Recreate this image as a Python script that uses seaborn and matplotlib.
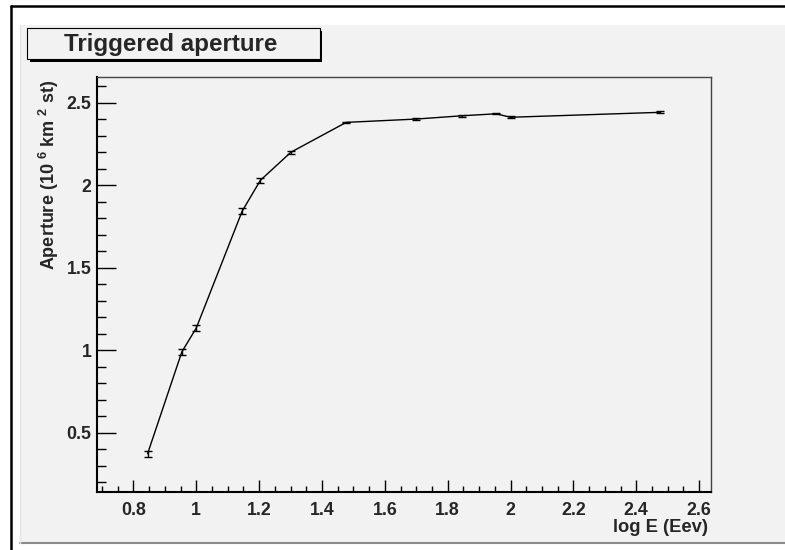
import matplotlib
matplotlib.use("Agg")
import matplotlib.pyplot as plt
import numpy as np
import pandas as pd
import seaborn as sns
from matplotlib.patches import Rectangle
from matplotlib.lines import Line2D
from matplotlib.ticker import MultipleLocator

# Trigger aperture versus log10 of the energy (EeV)
log_e = [0.845, 0.954, 1.000, 1.146, 1.204, 1.301, 1.477, 1.699, 1.845, 1.954, 2.000, 2.477]
aperture = [0.373, 0.990, 1.135, 1.843, 2.030, 2.200, 2.381, 2.401, 2.421, 2.433, 2.412, 2.442]
aperture_err = [0.018, 0.020, 0.020, 0.019, 0.016, 0.010, 0.005, 0.005, 0.005, 0.004, 0.005, 0.005]

x_ticks = [0.8, 1.0, 1.2, 1.4, 1.6, 1.8, 2.0, 2.2, 2.4, 2.6]
x_tick_labels = ["0.8", "1", "1.2", "1.4", "1.6", "1.8", "2", "2.2", "2.4", "2.6"]
y_ticks = [0.5, 1.0, 1.5, 2.0, 2.5]
y_tick_labels = ["0.5", "1", "1.5", "2", "2.5"]

title = "Triggered aperture"
x_label = "log E (Eev)"
y_label = r"Aperture (10 $^{6}$ km $^{2}$ st)"

df = pd.DataFrame({"logE": log_e, "aperture": aperture, "err": aperture_err})

sns.set_theme(style="white")
plt.rcParams["font.family"] = ["Liberation Sans", "DejaVu Sans"]
plt.rcParams["font.weight"] = "bold"
plt.rcParams["mathtext.fontset"] = "custom"
plt.rcParams["mathtext.rm"] = "Liberation Sans:bold"
plt.rcParams["mathtext.bf"] = "Liberation Sans:bold"
plt.rcParams["mathtext.default"] = "rm"

W, H = 785, 550
PAD_GRAY = "#f2f2f2"


def fx(px):
    return px / W


def fy(py):
    return 1 - py / H


fig = plt.figure(figsize=(W / 100, H / 100), dpi=100)
fig.patch.set_facecolor("white")

# canvas pad with its bevel
fig.patches.append(Rectangle((fx(20), fy(543)), fx(785) - fx(20), fy(25) - fy(543),
                             transform=fig.transFigure, facecolor=PAD_GRAY,
                             edgecolor="none", zorder=0))
fig.lines.append(Line2D([fx(20), fx(785)], [fy(543), fy(543)], transform=fig.transFigure,
                        color="#8a8a8a", lw=1.5, zorder=1))
fig.lines.append(Line2D([fx(20), fx(20)], [fy(543), fy(25)], transform=fig.transFigure,
                        color="#e4e4e4", lw=1.0, zorder=1))
# outer window frame
fig.lines.append(Line2D([fx(11), fx(11)], [fy(550), fy(6)], transform=fig.transFigure,
                        color="black", lw=1.8, zorder=2))
fig.lines.append(Line2D([fx(11), fx(785)], [fy(6), fy(6)], transform=fig.transFigure,
                        color="black", lw=1.8, zorder=2))

# title box with drop shadow
fig.patches.append(Rectangle((fx(30), fy(62)), fx(322) - fx(30), fy(31) - fy(62),
                             transform=fig.transFigure, facecolor="black",
                             edgecolor="none", zorder=3))
fig.patches.append(Rectangle((fx(27), fy(59)), fx(320) - fx(27), fy(28) - fy(59),
                             transform=fig.transFigure, facecolor=PAD_GRAY,
                             edgecolor="black", lw=0.8, zorder=4))
fig.text(fx(171), fy(44), title, ha="center", va="center", fontsize=17.4,
         fontweight="bold", zorder=5)

ax = fig.add_axes([fx(97), fy(492), fx(711) - fx(97), fy(77) - fy(492)])
ax.set_zorder(5)
ax.set_facecolor(PAD_GRAY)

sns.lineplot(data=df, x="logE", y="aperture", ax=ax, color="black", lw=1.0,
             sort=False, estimator=None, zorder=3)
ax.errorbar(df["logE"], df["aperture"], yerr=df["err"], fmt="none", ecolor="black",
            elinewidth=1.0, capsize=3, capthick=1.0, zorder=4)

ax.set_xlim(0.684, 2.638)
ax.set_ylim(0.141, 2.656)

ax.set_xticks(x_ticks)
ax.set_xticklabels(x_tick_labels)
ax.set_yticks(y_ticks)
ax.set_yticklabels(y_tick_labels)
ax.xaxis.set_minor_locator(MultipleLocator(0.05))
ax.yaxis.set_minor_locator(MultipleLocator(0.1))

ax.tick_params(axis="both", which="both", direction="in", bottom=True, left=True,
               top=False, right=False, color="black", width=1.0)
ax.tick_params(axis="x", which="major", length=8.8, pad=7, labelsize=12.8)
ax.tick_params(axis="x", which="minor", length=4.4)
ax.tick_params(axis="y", which="major", length=13.5, pad=4, labelsize=12.8)
ax.tick_params(axis="y", which="minor", length=6.8)
for lbl in ax.get_xticklabels() + ax.get_yticklabels():
    lbl.set_fontweight("bold")

ax.set_xlabel("")
ax.set_ylabel("")
for side in ("left", "bottom"):
    ax.spines[side].set_color("black")
    ax.spines[side].set_linewidth(1.5)
for side in ("top", "right"):
    ax.spines[side].set_color("#444444")
    ax.spines[side].set_linewidth(1.0)

fig.text(fx(708), fy(527), x_label, ha="right", va="center", fontsize=13.2,
         fontweight="bold")
fig.text(fx(48.5), fy(80), y_label, ha="center", va="top", rotation=90,
         fontsize=13.0, fontweight="bold")

fig.savefig("out.png", dpi=100)
